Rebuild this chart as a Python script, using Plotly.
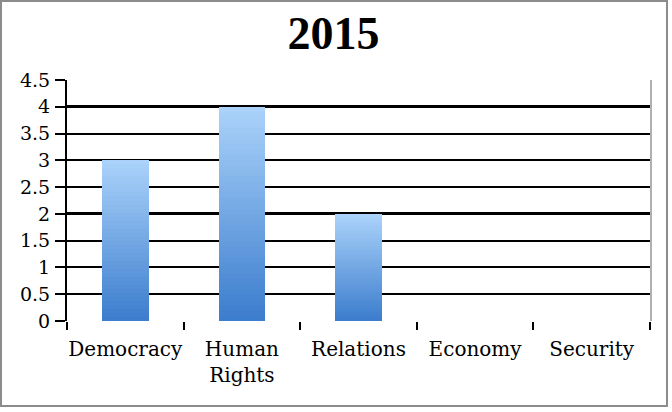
import plotly.graph_objects as go

title = "2015"
categories = ["Democracy", "Human Rights", "Relations", "Economy", "Security"]
tick_labels = ["Democracy", "Human<br>Rights", "Relations", "Economy", "Security"]
values = [3, 4, 2, 0, 0]
y_ticks = [0, 0.5, 1, 1.5, 2, 2.5, 3, 3.5, 4, 4.5]
y_tick_labels = ["0", "0.5", "1", "1.5", "2", "2.5", "3", "3.5", "4", "4.5"]

W, H = 672, 412
ML, MR, MT, MB = 67, 22, 80, 91

top_rgb = (170, 210, 250)
bot_rgb = (60, 125, 205)
N = 40

fig = go.Figure()
for k in range(N):
    t = k / (N - 1)
    c = tuple(round(b + (tp - b) * t) for b, tp in zip(bot_rgb, top_rgb))
    fig.add_trace(go.Bar(
        x=categories,
        y=[v / N for v in values],
        base=[v * k / N for v in values],
        width=0.4,
        marker=dict(color="rgb(%d,%d,%d)" % c, line=dict(width=0)),
        hoverinfo="skip",
        showlegend=False,
    ))

# invisible trace to activate yaxis2 (thick gridlines + right border)
fig.add_trace(go.Scatter(x=categories, y=values, yaxis="y2", mode="markers",
                         marker=dict(opacity=0), showlegend=False, hoverinfo="skip"))

font_family = "DejaVu Serif"
fig.update_layout(
    width=W, height=H,
    margin=dict(l=ML, r=MR, t=MT, b=MB),
    paper_bgcolor="white", plot_bgcolor="white",
    barmode="overlay", bargap=0,
    title=dict(text="<b>%s</b>" % title, x=333.5 / W, xref="container", xanchor="center",
               y=1 - 33 / H, yref="container", yanchor="middle",
               font=dict(family="Liberation Serif", size=46, color="black")),
    xaxis=dict(
        type="category", tickmode="array", tickvals=categories, ticktext=tick_labels,
        tickson="boundaries", ticks="outside", ticklen=8, tickwidth=2, tickcolor="black",
        ticklabelstandoff=14, tickangle=0, automargin=False,
        showline=False, showgrid=False, zeroline=False,
        tickfont=dict(family=font_family, size=20, color="black"),
    ),
    yaxis=dict(
        range=[0, 4.5], tickvals=y_ticks, ticktext=y_tick_labels,
        ticks="outside", ticklen=10, tickwidth=2, tickcolor="black",
        ticklabelstandoff=1, automargin=False,
        showgrid=True, gridcolor="black", gridwidth=2,
        showline=True, linecolor="black", linewidth=2,
        zeroline=False,
        tickfont=dict(family=font_family, size=19, color="black"),
    ),
    yaxis2=dict(
        range=[0, 4.5], overlaying="y", side="right", tickvals=[0, 2, 4],
        showticklabels=False, ticks="", showgrid=True, gridcolor="black", gridwidth=3,
        showline=True, linecolor="#b0b0b0", linewidth=2, zeroline=False, automargin=False,
    ),
)

pw = W - ML - MR
ph = H - MT - MB
fig.add_shape(type="rect", xref="paper", yref="paper",
              x0=(1 - ML) / pw, x1=(W - 5 - ML) / pw,
              y0=-(H - 6 - MT - ph) / ph, y1=1 + (MT - 1) / ph,
              line=dict(color="#8c8c8c", width=2), layer="below")

fig.write_html("out.html")
